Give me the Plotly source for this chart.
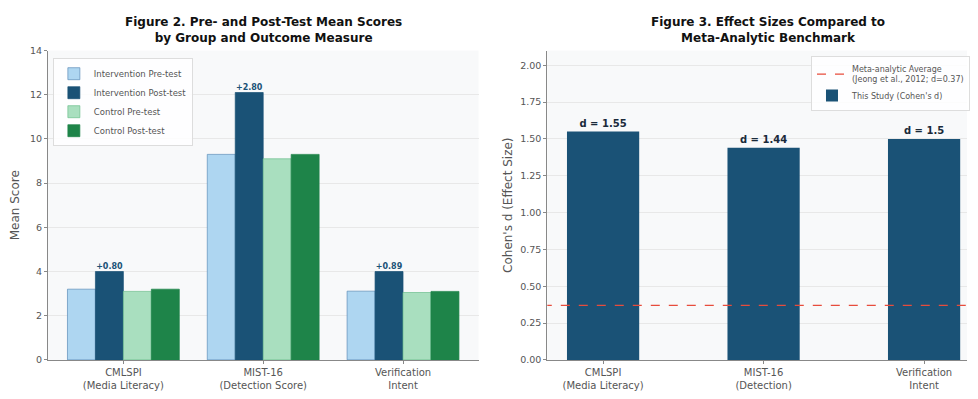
import plotly.graph_objects as go

# ---------------- data ----------------
left_categories = ["CMLSPI<br>(Media Literacy)", "MIST-16<br>(Detection Score)", "Verification<br>Intent"]
series_names = ["Intervention Pre-test", "Intervention Post-test", "Control Pre-test", "Control Post-test"]
int_pre = [3.20, 9.30, 3.11]
int_post = [4.00, 12.10, 4.00]
ctrl_pre = [3.10, 9.10, 3.05]
ctrl_post = [3.20, 9.30, 3.10]
gain_labels = ["+0.80", "+2.80", "+0.89"]

right_categories = ["CMLSPI<br>(Media Literacy)", "MIST-16<br>(Detection)", "Verification<br>Intent"]
cohens_d = [1.55, 1.44, 1.50]
d_labels = ["d = 1.55", "d = 1.44", "d = 1.5"]
meta_avg = 0.37

left_yticks = [0, 2, 4, 6, 8, 10, 12, 14]
right_yticks = [0.00, 0.25, 0.50, 0.75, 1.00, 1.25, 1.50, 1.75, 2.00]
right_ytick_text = ["0.00", "0.25", "0.50", "0.75", "1.00", "1.25", "1.50", "1.75", "2.00"]

# ---------------- style ----------------
C_INT_PRE = "#aed6f1"
C_INT_POST = "#1a5276"
C_CTRL_PRE = "#a9dfbf"
C_CTRL_POST = "#1e8449"
C_META = "#e74c3c"
FONT = "DejaVu Sans"
TICK_COLOR = "#555555"
AXIS_COLOR = "#888888"
GRID = "#e8e8e8"
BG = "#f8f9fa"

# the page body keeps its default 8px margin, so the figure is sized to fit inside it
PAGE_OFF = 8
W, H = 978 - 2 * PAGE_OFF, 399 - 2 * PAGE_OFF
def px_x(p):
    return (p - PAGE_OFF) / W
def px_y(p):
    return 1 - (p - PAGE_OFF) / H

fig = go.Figure()

xl = list(range(len(left_categories)))
colors = [C_INT_PRE, C_INT_POST, C_CTRL_PRE, C_CTRL_POST]
edge = ["#5b8db8", C_INT_POST, "#6cbf8c", C_CTRL_POST]
BAR_W = 0.2
offsets = [-0.4, -0.2, 0.0, 0.2]
for name, vals, c, e, off in zip(series_names, [int_pre, int_post, ctrl_pre, ctrl_post], colors, edge, offsets):
    fig.add_trace(go.Bar(
        x=xl, y=vals, name=name, marker=dict(color=c, line=dict(color=e, width=0.7)),
        xaxis="x", yaxis="y", legend="legend", width=BAR_W, offset=off,
    ))

# gain labels above intervention post bars
fig.add_trace(go.Scatter(
    x=[i - 0.1 for i in xl], y=int_post, mode="text", text=["<b>%s</b>" % g for g in gain_labels],
    textposition="top center", textfont=dict(family=FONT, size=8, color=C_INT_POST),
    xaxis="x", yaxis="y", showlegend=False, hoverinfo="skip", cliponaxis=False,
))

xr = list(range(len(right_categories)))
fig.add_trace(go.Bar(
    x=xr, y=cohens_d, name="This Study (Cohen's d)", width=0.45,
    marker=dict(color=C_INT_POST, line=dict(width=0)),
    text=["<b>%s</b>" % t for t in d_labels], textposition="outside", cliponaxis=False,
    textfont=dict(family=FONT, size=10, color="#1a2a3a"),
    xaxis="x2", yaxis="y2", legend="legend2", legendrank=2,
))
fig.add_trace(go.Scatter(
    x=[-0.6, 2.6], y=[meta_avg, meta_avg], mode="lines",
    line=dict(color=C_META, width=1.2, dash="dash"),
    name="Meta-analytic Average<br>(Jeong et al., 2012; d=0.37)",
    xaxis="x2", yaxis="y2", legend="legend2", legendrank=1,
))

ydom = [px_y(368), px_y(46)]
axis_common = dict(showline=True, linecolor=AXIS_COLOR, linewidth=1, ticks="outside",
                   ticklen=3, tickcolor=AXIS_COLOR, tickfont=dict(family=FONT, size=9.5, color=TICK_COLOR),
                   zeroline=False)
xfont = dict(family=FONT, size=10, color=TICK_COLOR)

# right axis runs past the window edge in the reference; 970 is the last visible page pixel
R_PER_UNIT = 161.0
r_left = -0.3475
r_right = r_left + (970 - 549) / R_PER_UNIT

fig.update_layout(
    width=W, height=H, margin=dict(l=0, r=0, t=0, b=0),
    paper_bgcolor="white", plot_bgcolor=BG,
    font=dict(family=FONT, color=TICK_COLOR),
    barmode="overlay", showlegend=True,
    xaxis=dict(domain=[px_x(48), px_x(480)], range=[-0.54, 2.54], tickvals=xl, ticktext=left_categories,
               showgrid=False, anchor="y", **{**axis_common, "tickfont": xfont}),
    yaxis=dict(domain=ydom, range=[0, 14], tickvals=left_yticks, showgrid=True, gridcolor=GRID,
               gridwidth=1, anchor="x",
               title=dict(text="Mean Score", font=dict(family=FONT, size=12, color=TICK_COLOR), standoff=8),
               **axis_common),
    xaxis2=dict(domain=[px_x(549), 1.0], range=[r_left, r_right], tickvals=xr, ticktext=right_categories,
                showgrid=False, anchor="y2", **{**axis_common, "tickfont": xfont}),
    yaxis2=dict(domain=ydom, range=[0, 2.1], tickvals=right_yticks, ticktext=right_ytick_text,
                showgrid=True, gridcolor=GRID, gridwidth=1, anchor="x2",
                title=dict(text="Cohen's d (Effect Size)", font=dict(family=FONT, size=12, color=TICK_COLOR), standoff=5),
                **axis_common),
    legend=dict(x=px_x(53), y=px_y(54), xanchor="left", yanchor="top",
                bgcolor="rgba(255,255,255,0.85)", bordercolor="#dddddd", borderwidth=1,
                font=dict(family=FONT, size=8.5, color="#555555"), itemwidth=30,
                tracegroupgap=0, itemclick=False),
    legend2=dict(x=px_x(973), y=px_y(52), xanchor="right", yanchor="top",
                 bgcolor="rgba(255,255,255,0.85)", bordercolor="#dddddd", borderwidth=1,
                 font=dict(family=FONT, size=8, color="#555555"), itemwidth=30,
                 tracegroupgap=0),
)

fig.add_annotation(text="<b>Figure 2. Pre- and Post-Test Mean Scores<br>by Group and Outcome Measure</b>",
                   x=px_x(264), y=px_y(25), xref="paper", yref="paper", xanchor="center", yanchor="middle",
                   showarrow=False, font=dict(family=FONT, size=12, color="#111111"))
fig.add_annotation(text="<b>Figure 3. Effect Sizes Compared to<br>Meta-Analytic Benchmark</b>",
                   x=px_x(770), y=px_y(25), xref="paper", yref="paper", xanchor="center", yanchor="middle",
                   showarrow=False, font=dict(family=FONT, size=12, color="#111111"))

fig.write_html("out.html")
